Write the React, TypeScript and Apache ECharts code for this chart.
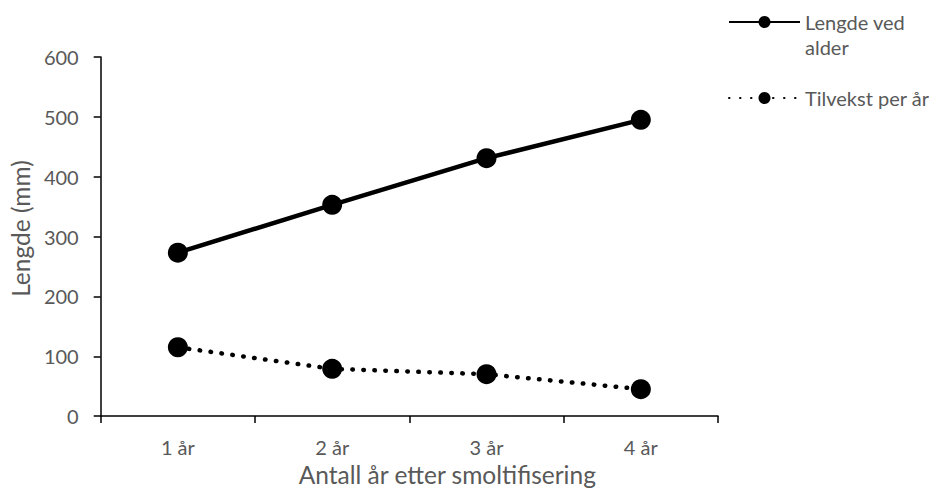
import React, { useEffect, useRef } from "react";
import * as echarts from "echarts";

// Growth data: length at age and yearly increment after smoltification
const categories = ["1 år", "2 år", "3 år", "4 år"];
const lengthAtAge = [273, 353, 431, 495];
const growthPerYear = [115, 79, 70, 45];
const yTicks = { min: 0, max: 600, interval: 100 };

const FONT = "Lato, 'Liberation Sans', sans-serif";
const TEXT = "#595959";

export default function App() {
  const ref = useRef<HTMLDivElement>(null);

  useEffect(() => {
    document.body.style.margin = "0";
    if (!ref.current) return;
    const chart = echarts.init(ref.current, undefined, { renderer: "svg" });

    chart.setOption({
      animation: false,
      backgroundColor: "#ffffff",
      textStyle: { fontFamily: FONT },
      grid: { left: 99, right: 211, top: 57, bottom: 71 },
      legend: [
        {
          data: ["Lengde ved alder"],
          left: 728,
          top: -15.5,
          padding: 0,
          itemWidth: 71,
          itemHeight: 15,
          selectedMode: false,
          // blank first line keeps the first text row level with the icon
          formatter: (name: string) => " \n" + name.replace("ved ", "ved\n"),
          textStyle: {
            color: TEXT,
            fontSize: 20,
            fontFamily: FONT,
            lineHeight: 25,
          },
        },
        {
          data: ["Tilvekst per år"],
          left: 728,
          top: 88,
          padding: 0,
          itemWidth: 71,
          itemHeight: 15,
          selectedMode: false,
          textStyle: { color: TEXT, fontSize: 20, fontFamily: FONT },
        },
      ],
      xAxis: {
        type: "category",
        data: categories,
        boundaryGap: true,
        name: "Antall år etter smoltifisering",
        nameLocation: "middle",
        nameGap: 43,
        nameTextStyle: { color: TEXT, fontSize: 24.5, fontFamily: FONT, padding: [0, 0, 0, 76] },
        axisLine: { show: true, lineStyle: { color: "#000", width: 1.5 } },
        axisTick: { show: true, length: 7, alignWithLabel: false, lineStyle: { color: "#000", width: 1.5 } },
        axisLabel: { color: TEXT, fontSize: 20, fontFamily: FONT, margin: 21 },
        splitLine: { show: false },
      },
      yAxis: {
        type: "value",
        min: yTicks.min,
        max: yTicks.max,
        interval: yTicks.interval,
        name: "Lengde (mm)",
        nameLocation: "middle",
        nameGap: 66,
        nameTextStyle: { color: TEXT, fontSize: 24.5, fontFamily: FONT, padding: [0, 0, 0, 16] },
        axisLine: { show: true, lineStyle: { color: "#000", width: 1.5 } },
        axisTick: { show: true, length: 7, lineStyle: { color: "#000", width: 1.5 } },
        axisLabel: { color: TEXT, fontSize: 20, fontFamily: FONT, margin: 22 },
        splitLine: { show: false },
      },
      series: [
        {
          name: "Lengde ved alder",
          type: "line",
          data: lengthAtAge,
          symbol: "circle",
          symbolSize: 20,
          itemStyle: { color: "#000" },
          lineStyle: { color: "#000", width: 4.5 },
        },
        {
          name: "Tilvekst per år",
          type: "line",
          data: growthPerYear,
          symbol: "circle",
          symbolSize: 20,
          itemStyle: { color: "#000" },
          lineStyle: { color: "#000", width: 4.5, type: [0.5, 10.5], cap: "round" },
        },
      ],
    });

    return () => chart.dispose();
  }, []);

  return <div ref={ref} style={{ width: 929, height: 492 }} />;
}
